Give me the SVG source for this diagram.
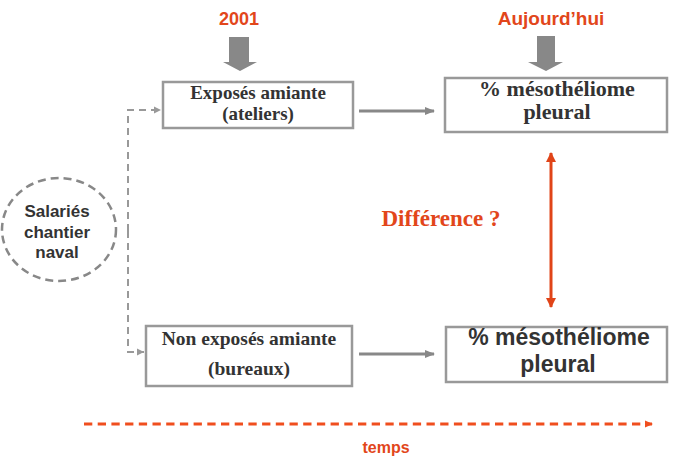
<svg xmlns="http://www.w3.org/2000/svg" width="675" height="470" viewBox="0 0 675 470">
<style>
.box{fill:#fff;stroke:#999;stroke-width:2.5}
.serif{font-family:"Liberation Serif","Times New Roman",serif;font-weight:bold;fill:#333;text-anchor:middle}
.sans{font-family:"Liberation Sans",Arial,sans-serif;font-weight:bold;fill:#333;text-anchor:middle}
.orange{fill:#e2461b}
.gline{stroke:#888;stroke-width:3;fill:none}
.gdash{stroke:#999;stroke-width:2;fill:none;stroke-dasharray:7 5}
.block{fill:#888}
</style>
<defs>
<marker id="ga" markerWidth="10" markerHeight="8" refX="9" refY="4" orient="auto" markerUnits="userSpaceOnUse"><path d="M0,0 L10,4 L0,8 Z" fill="#888"/></marker>
<marker id="gs" markerWidth="8" markerHeight="8" refX="7" refY="4" orient="auto" markerUnits="userSpaceOnUse"><path d="M0,0.5 L7,4 L0,7.5 Z" fill="#999"/></marker>
<marker id="oa" markerWidth="10" markerHeight="10" refX="9" refY="5" orient="auto-start-reverse" markerUnits="userSpaceOnUse"><path d="M0,0 L10,5 L0,10 Z" fill="#e04418"/></marker>
<marker id="ot" markerWidth="8" markerHeight="8" refX="7" refY="4" orient="auto" markerUnits="userSpaceOnUse"><path d="M0,0.5 L8,4 L0,7.5 Z" fill="#f04e1e"/></marker>
</defs>

<g id="label-2001">
<text class="sans orange" x="239" y="25" font-size="18">2001</text>
<path class="block" d="M229,37 H249 V62 H257 L240,71 L223,62 H229 Z"/>
</g>
<g id="label-aujourdhui">
<text class="sans orange" x="551" y="25" font-size="19">Aujourd’hui</text>
<path class="block" d="M537,36 H555 V62 H563 L546,71 L528,62 H537 Z"/>
</g>

<g id="salaries">
<ellipse cx="59" cy="229.5" rx="57" ry="51.5" fill="#fff" stroke="#888" stroke-width="2.5" stroke-dasharray="8 5"/>
<text class="sans" x="57" y="217" font-size="17">Salariés</text>
<text class="sans" x="57" y="238" font-size="17">chantier</text>
<text class="sans" x="57" y="258" font-size="17">naval</text>
</g>

<g id="exposes">
<rect class="box" x="163" y="82" width="190" height="46"/>
<text class="serif" x="258" y="99" font-size="19">Exposés amiante</text>
<text class="serif" x="258" y="120" font-size="19">(ateliers)</text>
</g>

<g id="non-exposes">
<rect class="box" x="146" y="326" width="206" height="60"/>
<text class="serif" x="249" y="345" font-size="19.5">Non exposés amiante</text>
<text class="serif" x="249" y="375" font-size="19.5">(bureaux)</text>
</g>

<g id="meso-top">
<rect class="box" x="445" y="78" width="222" height="54"/>
<text class="serif" x="557" y="96" font-size="22">% mésothéliome</text>
<text class="serif" x="557" y="119" font-size="22">pleural</text>
</g>

<g id="meso-bottom">
<rect class="box" x="446" y="327" width="221" height="55"/>
<text class="sans" x="559" y="345" font-size="23">% mésothéliome</text>
<text class="sans" x="558" y="372" font-size="23">pleural</text>
</g>

<g id="difference">
<text class="serif orange" x="441" y="226" font-size="23">Différence ?</text>
</g>

<g id="temps">
<text class="sans orange" x="386" y="453" font-size="16">temps</text>
</g>

<g id="connectors">
<path class="gdash" d="M128,231 V110 H161" marker-end="url(#gs)"/>
<path class="gdash" d="M128,231 V352 H144" marker-end="url(#gs)"/>
<line class="gline" x1="359" y1="111" x2="434" y2="111" marker-end="url(#ga)"/>
<line class="gline" x1="359" y1="354" x2="434" y2="354" marker-end="url(#ga)"/>
<line x1="551" y1="153" x2="551" y2="307" stroke="#e04418" stroke-width="3" marker-start="url(#oa)" marker-end="url(#oa)"/>
<line x1="84" y1="424" x2="652" y2="424" stroke="#f04e1e" stroke-width="3" stroke-dasharray="8.3 5.4" marker-end="url(#ot)"/>
</g>
</svg>
